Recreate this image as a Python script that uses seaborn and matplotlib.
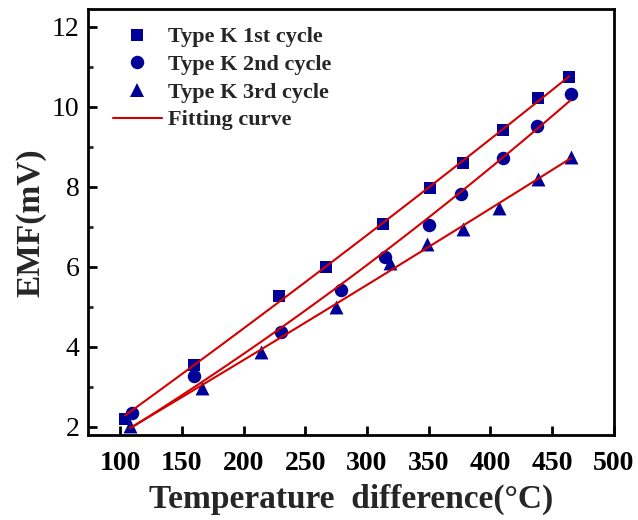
import numpy as np
import matplotlib
matplotlib.use("Agg")
import matplotlib.pyplot as plt
from matplotlib.lines import Line2D
from matplotlib.ticker import MultipleLocator
import seaborn as sns

# dados
temp1 = [104, 159.5, 229, 267, 313, 351, 378, 410, 439, 464]
emf1 = [2.20, 3.54, 5.27, 6.00, 7.08, 7.98, 8.60, 9.42, 10.22, 10.76]
temp2 = [109.5, 160, 230, 279, 315, 350, 376, 410, 438, 465]
emf2 = [2.35, 3.27, 4.37, 5.43, 6.25, 7.05, 7.83, 8.72, 9.53, 10.33]
temp3 = [108, 166, 214, 275, 318.5, 349, 378, 407, 439, 465]
emf3 = [2.03, 2.98, 3.87, 5.00, 6.10, 6.58, 6.95, 7.48, 8.20, 8.76]

labels = ["Type K 1st cycle", "Type K 2nd cycle", "Type K 3rd cycle"]
markers = ["s", "o", "^"]
msizes = [8.3, 9.7, 10.0]
xticks = [100, 150, 200, 250, 300, 350, 400, 450, 500]
yticks = [2, 4, 6, 8, 10, 12]

blue = "#000099"
red = "#D40000"

sns.set_theme(style="ticks")
plt.rcParams["font.family"] = ["Liberation Serif", "DejaVu Serif"]

fig = plt.figure(figsize=(6.38, 5.2), dpi=100)
ax = fig.add_axes([0.138, 0.163, 0.824, 0.819])

series = [(temp1, emf1), (temp2, emf2), (temp3, emf3)]
handles = []
for (xs, ys), lab, mk, ms in zip(series, labels, markers, msizes):
    sns.scatterplot(x=xs, y=ys, ax=ax, marker=mk, s=ms ** 2, color=blue,
                    edgecolor=blue, linewidth=0, zorder=3)
    # ajuste E = a*T + b*T^2 (EMF nula em T = 0)
    t = np.array(xs)
    A = np.column_stack([t, t ** 2])
    (a, b), *_ = np.linalg.lstsq(A, np.array(ys), rcond=None)
    xf = np.linspace(t.min(), t.max(), 100)
    sns.lineplot(x=xf, y=a * xf + b * xf ** 2, ax=ax, color=red,
                 linewidth=1.5, zorder=4)
    handles.append(Line2D([], [], linestyle="none", marker=mk, markersize=ms,
                          color=blue, markeredgewidth=0, label=lab))
handles.append(Line2D([], [], color=red, linewidth=1.5, label="Fitting curve"))

ax.set_xlim(74, 500)
ax.set_ylim(1.79, 12.44)
ax.set_xticks(xticks)
ax.set_yticks(yticks)
ax.yaxis.set_minor_locator(MultipleLocator(1))

for s in ax.spines.values():
    s.set_linewidth(2)
    s.set_color("black")
ax.tick_params(axis="both", which="major", direction="in", length=6.5, width=2,
               colors="black")
ax.tick_params(axis="y", which="minor", direction="in", length=3.6, width=2)
ax.tick_params(axis="x", labelsize=20, pad=11)
ax.tick_params(axis="y", labelsize=20, pad=6)
for t in ax.get_xticklabels():
    t.set_fontweight("bold")

ax.set_xlabel("Temperature  difference(°C)", fontsize=24, fontweight="bold",
              labelpad=6)
ax.set_ylabel("EMF(mV)", fontsize=24, fontweight="bold", labelpad=4)

leg = ax.legend(handles=handles, loc="upper left", bbox_to_anchor=(0.047, 0.959),
                frameon=False, prop={"size": 16, "weight": "bold"},
                handlelength=2.2, handletextpad=0.3, labelspacing=0.32,
                borderpad=0, borderaxespad=0)

fig.savefig("out.png", dpi=100)
